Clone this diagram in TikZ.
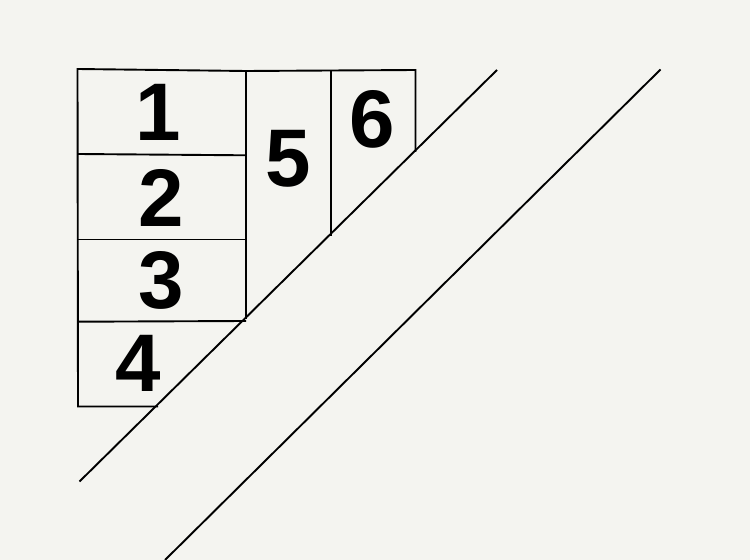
\documentclass[tikz,border=0pt]{standalone}
\usepackage{fontspec}
\setmainfont{Liberation Sans}
\definecolor{paper}{RGB}{244,244,240}
\begin{document}
\begin{tikzpicture}[x=1bp,y=-1bp,
  ln/.style={line width=1.9bp, line join=miter, black},
  num/.style={font=\bfseries\fontsize{82}{82}\selectfont, inner sep=0pt, text=black}]
\fill[paper] (0,0) rectangle (750,560);
\useasboundingbox (0,0) rectangle (750,560);
% grid of cells
\draw[ln] (158,406.5) -- (78,406.5) -- (77.5,69) -- (246,71) -- (415.5,70) -- (415.5,152);
\draw[ln] (78,154) -- (246,155.3);
\draw[ln] (78,239.5) -- (246,239.5);
\draw[ln] (78,321.7) -- (246,321);
\draw[ln] (246,71) -- (246,319);
\draw[ln] (331,71) -- (331,236);
% diagonals
\coordinate (d1a) at (79.5,481.5);
\coordinate (d1b) at (497,70);
\coordinate (d2a) at (660.5,69.5);
\coordinate (d2b) at (165,560);
\draw[ln] (d1a) -- (d1b);
\draw[ln] (d2a) -- (d2b);
% numbers
\node[num] (n1) at (158,112) {1};
\node[num] (n2) at (161.5,198) {2};
\node[num] (n3) at (161,280) {3};
\node[num] (n4) at (138,363) {4};
\node[num] (n5) at (288,159) {5};
\node[num] (n6) at (372.5,119) {6};
\end{tikzpicture}
\end{document}
